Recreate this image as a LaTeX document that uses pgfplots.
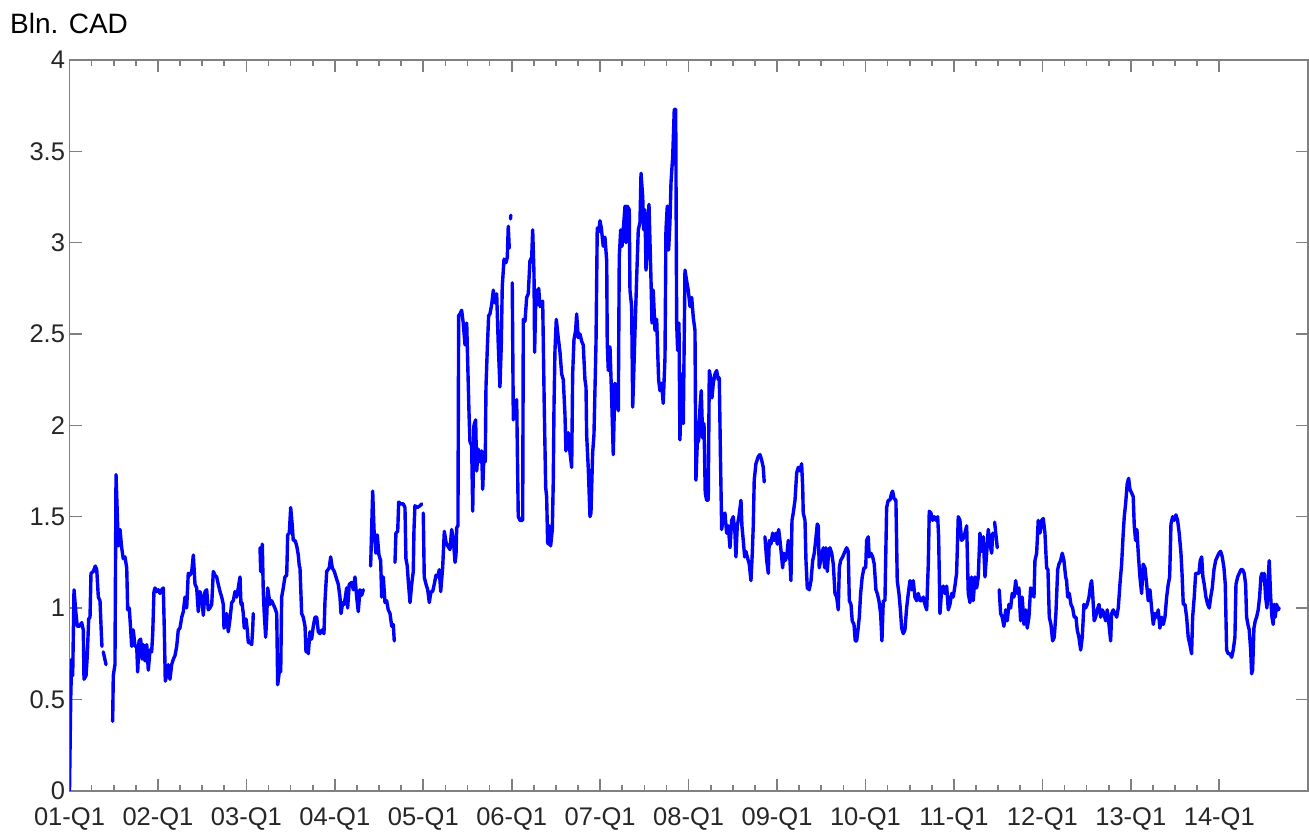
\documentclass[border=0pt]{standalone}
\usepackage{fontspec}
\setmainfont{Liberation Sans}
\usepackage{pgfplots}
\pgfplotsset{compat=1.18}
\usepackage{pgfplotstable}
\definecolor{axisgray}{RGB}{128,128,128}
\definecolor{labgray}{RGB}{38,38,38}
\definecolor{lineblue}{RGB}{0,0,255}

% x = years since 2001-Q1, y = billions of CAD
\pgfplotstableread{
x y
0.000 0.00
0.014 0.51
0.025 0.72
0.036 0.63
0.051 1.10
0.073 0.97
0.088 0.90
0.111 0.90
0.138 0.92
0.156 0.88
0.164 0.61
0.187 0.63
0.201 0.74
0.217 0.94
0.232 0.95
0.243 1.19
0.269 1.20
0.292 1.23
0.308 1.21
0.326 1.06
0.345 1.04
0.360 0.86
0.367 0.79
nan nan
0.382 0.76
0.413 0.69
nan nan
0.488 0.38
0.495 0.63
0.514 0.69
0.526 1.73
0.540 1.52
0.552 1.34
0.571 1.43
0.590 1.33
0.608 1.27
0.627 1.28
0.647 1.22
0.658 0.99
0.676 1.00
0.692 0.88
0.703 0.79
0.721 0.88
0.741 0.79
0.760 0.79
0.771 0.65
0.786 0.82
0.805 0.83
0.820 0.72
0.834 0.80
0.854 0.71
0.873 0.80
0.891 0.66
0.910 0.77
0.929 0.76
0.941 0.86
0.955 1.09
0.967 1.11
0.986 1.09
1.004 1.10
1.023 1.08
1.042 1.10
1.061 1.11
1.072 0.88
1.083 0.60
1.099 0.63
1.117 0.69
1.136 0.61
1.155 0.69
1.174 0.72
1.193 0.74
1.212 0.79
1.230 0.88
1.249 0.89
1.269 0.95
1.287 0.98
1.306 1.06
1.325 1.00
1.343 1.19
1.362 1.18
1.382 1.20
1.400 1.29
1.419 1.13
1.438 1.11
1.456 0.98
1.475 1.09
1.495 1.06
1.513 0.96
1.532 1.09
1.551 1.10
1.569 0.99
1.588 1.00
1.608 1.02
1.626 1.20
1.645 1.18
1.664 1.17
1.682 1.13
1.702 1.09
1.721 1.06
1.739 1.02
1.747 0.89
1.766 0.92
1.777 0.97
1.795 0.87
1.815 0.94
1.834 1.03
1.852 1.04
1.871 1.09
1.890 1.06
1.908 1.11
1.928 1.17
1.939 1.02
1.950 1.03
1.965 0.97
1.976 0.89
1.996 0.94
2.010 0.88
2.022 0.81
2.041 0.81
2.060 0.80
2.071 0.88
2.078 0.97
nan nan
2.154 1.33
2.162 1.20
2.180 1.35
2.191 1.09
2.202 0.97
2.218 0.84
2.230 0.95
2.241 1.11
2.256 1.06
2.267 1.02
2.286 1.04
2.304 1.02
2.323 1.00
2.343 0.97
2.354 0.58
2.372 0.65
2.388 0.65
2.399 1.06
2.417 1.11
2.436 1.17
2.456 1.18
2.467 1.40
2.485 1.41
2.501 1.55
2.519 1.45
2.530 1.37
2.550 1.37
2.569 1.34
2.587 1.29
2.598 1.23
2.606 1.22
2.625 0.97
2.643 0.95
2.663 0.90
2.674 0.76
2.682 0.83
2.700 0.75
2.719 0.87
2.738 0.83
2.756 0.90
2.776 0.95
2.795 0.95
2.813 0.87
2.832 0.86
2.855 0.88
2.877 0.86
2.889 1.04
2.908 1.20
2.937 1.22
2.953 1.28
2.971 1.22
2.994 1.20
3.013 1.17
3.039 1.13
3.058 1.06
3.070 0.97
3.089 1.03
3.107 1.02
3.134 1.11
3.145 1.00
3.163 1.13
3.191 1.14
3.209 1.10
3.228 1.17
3.247 1.06
3.265 0.98
3.284 1.10
3.304 1.07
3.322 1.10
nan nan
3.405 1.23
3.428 1.64
3.443 1.43
3.465 1.30
3.480 1.40
3.499 1.29
3.518 1.26
3.530 1.06
3.548 1.17
3.567 1.03
3.586 1.04
3.604 0.99
3.624 0.97
3.643 0.90
3.661 0.91
3.672 0.82
nan nan
3.680 1.25
3.691 1.41
3.711 1.42
3.722 1.58
3.748 1.57
3.774 1.57
3.793 1.55
3.804 1.27
3.819 1.23
3.830 1.15
3.850 1.03
3.869 1.13
3.887 1.20
3.895 1.43
3.906 1.56
3.932 1.55
3.963 1.56
3.982 1.57
nan nan
4.000 1.52
4.011 1.17
4.031 1.13
4.050 1.10
4.068 1.03
4.087 1.09
4.106 1.09
4.124 1.13
4.144 1.18
4.163 1.17
4.181 1.21
4.197 1.09
4.219 1.22
4.238 1.42
4.257 1.36
4.276 1.34
4.302 1.32
4.321 1.43
4.339 1.38
4.359 1.25
4.370 1.29
4.378 1.44
4.392 1.45
4.400 2.60
4.415 2.61
4.434 2.63
4.452 2.56
4.472 2.44
4.491 2.56
4.502 2.35
4.517 2.07
4.528 1.91
4.547 1.89
4.559 1.53
4.573 2.00
4.592 2.03
4.604 1.75
4.622 1.87
4.641 1.80
4.660 1.86
4.672 1.65
4.686 1.84
4.701 1.80
4.709 2.21
4.724 2.42
4.739 2.60
4.754 2.61
4.773 2.66
4.792 2.74
4.811 2.67
4.830 2.72
4.848 2.44
4.867 2.21
4.882 2.44
4.893 2.76
4.913 2.91
4.935 2.89
4.950 2.92
4.961 3.09
4.972 2.97
nan nan
4.986 3.13
4.990 3.15
nan nan
5.006 2.78
5.018 2.03
5.037 2.12
5.056 2.14
5.074 1.50
5.093 1.48
5.124 1.48
5.131 2.58
5.150 2.57
5.169 2.70
5.187 2.72
5.206 2.90
5.226 2.92
5.237 3.07
5.252 2.83
5.259 2.40
5.274 2.74
5.289 2.66
5.305 2.75
5.320 2.65
5.350 2.68
5.368 2.10
5.384 1.66
5.395 1.61
5.406 1.36
5.413 1.35
5.425 1.45
5.440 1.34
5.459 1.43
5.470 1.70
5.478 2.10
5.489 2.41
5.504 2.58
5.526 2.48
5.546 2.40
5.565 2.28
5.583 2.25
5.602 2.06
5.613 1.86
5.639 1.96
5.659 1.85
5.678 1.77
5.689 2.28
5.704 2.47
5.723 2.52
5.734 2.61
5.752 2.48
5.772 2.50
5.791 2.46
5.809 2.44
5.828 2.25
5.840 2.21
5.847 1.95
5.866 1.76
5.885 1.50
5.896 1.52
5.915 1.85
5.930 1.95
5.941 2.19
5.953 2.45
5.967 3.08
5.983 3.06
5.998 3.12
6.013 3.08
6.035 2.98
6.054 3.03
6.074 2.90
6.080 2.45
6.092 2.30
6.111 2.43
6.130 2.15
6.148 1.84
6.167 2.23
6.187 2.19
6.205 2.08
6.216 2.92
6.232 3.07
6.247 2.98
6.261 3.07
6.281 3.20
6.292 3.00
6.306 3.20
6.329 3.18
6.337 2.74
6.356 2.65
6.368 2.10
6.382 2.32
6.394 2.52
6.413 2.81
6.431 3.07
6.450 3.11
6.462 3.38
6.481 3.25
6.492 3.07
6.507 3.18
6.518 2.85
6.533 2.96
6.552 3.21
6.563 3.01
6.574 2.81
6.586 2.56
6.600 2.74
6.620 2.52
6.639 2.58
6.650 2.41
6.661 2.25
6.676 2.19
6.695 2.23
6.713 2.12
6.733 2.37
6.744 3.07
6.759 3.20
6.774 2.96
6.789 3.11
6.801 3.33
6.820 3.47
6.838 3.73
6.854 3.73
6.865 2.56
6.876 2.41
6.891 2.56
6.902 1.92
6.922 2.28
6.940 2.01
6.959 2.85
6.978 2.79
6.996 2.74
7.016 2.65
7.035 2.70
7.053 2.59
7.072 2.52
7.083 1.70
7.098 1.90
7.114 1.92
7.129 2.10
7.143 2.19
7.159 1.93
7.174 2.01
7.188 1.63
7.204 1.59
7.222 1.59
7.234 2.30
7.249 2.26
7.264 2.15
7.279 2.23
7.298 2.28
7.317 2.30
7.335 2.25
7.347 2.26
7.360 1.83
7.374 1.43
7.392 1.50
7.411 1.52
7.430 1.41
7.448 1.45
7.468 1.33
7.487 1.48
7.505 1.50
7.524 1.41
7.535 1.28
7.550 1.45
7.569 1.50
7.592 1.59
7.603 1.45
7.618 1.37
7.634 1.28
7.648 1.31
7.663 1.28
7.686 1.24
7.705 1.15
7.720 1.30
7.731 1.45
7.742 1.70
7.761 1.79
7.788 1.83
7.807 1.84
7.826 1.81
7.844 1.77
7.855 1.69
nan nan
7.863 1.39
7.883 1.26
7.901 1.19
7.912 1.37
7.931 1.35
7.950 1.41
7.968 1.37
7.988 1.41
8.002 1.35
8.018 1.43
8.033 1.37
8.052 1.28
8.063 1.22
8.078 1.30
8.093 1.26
8.109 1.28
8.127 1.37
8.146 1.26
8.157 1.15
8.169 1.48
8.183 1.52
8.203 1.59
8.222 1.74
8.240 1.77
8.259 1.75
8.278 1.79
8.290 1.66
8.296 1.52
8.316 1.48
8.327 1.26
8.342 1.11
8.364 1.10
8.384 1.15
8.403 1.26
8.421 1.30
8.437 1.37
8.455 1.46
8.466 1.45
8.477 1.22
8.493 1.26
8.511 1.30
8.523 1.33
8.538 1.22
8.553 1.33
8.568 1.20
8.584 1.31
8.598 1.33
8.618 1.30
8.636 1.24
8.655 1.08
8.674 1.06
8.692 0.99
8.704 1.22
8.719 1.26
8.742 1.28
8.768 1.31
8.787 1.33
8.805 1.31
8.817 1.04
8.836 1.02
8.850 0.93
8.870 0.91
8.884 0.82
8.900 0.82
8.915 0.88
8.930 0.95
8.945 1.08
8.963 1.17
8.983 1.22
9.002 1.22
9.013 1.37
9.031 1.39
9.042 1.28
9.062 1.30
9.081 1.28
9.099 1.24
9.118 1.10
9.133 1.08
9.152 1.04
9.171 0.97
9.186 0.82
9.201 1.04
9.220 1.04
9.239 1.55
9.257 1.59
9.276 1.59
9.296 1.63
9.307 1.64
9.322 1.60
9.344 1.59
9.359 1.15
9.378 1.08
9.393 1.00
9.409 0.89
9.427 0.86
9.446 0.88
9.465 1.00
9.484 1.08
9.503 1.15
9.522 1.10
9.540 1.15
9.559 1.06
9.578 1.04
9.597 1.08
9.616 1.04
9.635 1.04
9.653 1.06
9.672 1.02
9.692 0.99
9.710 1.24
9.721 1.53
9.740 1.52
9.760 1.48
9.778 1.50
9.797 1.48
9.816 1.50
9.827 1.39
9.842 0.97
9.861 1.10
9.879 1.12
9.898 1.08
9.918 1.12
9.936 0.99
9.955 1.02
9.974 1.08
9.992 1.06
10.011 1.12
10.030 1.19
10.049 1.50
10.068 1.48
10.087 1.37
10.105 1.38
10.124 1.41
10.144 1.45
10.162 1.08
10.181 1.03
10.200 1.17
10.218 1.04
10.238 1.17
10.257 1.11
10.275 1.17
10.294 1.41
10.314 1.31
10.332 1.39
10.351 1.17
10.370 1.30
10.388 1.43
10.407 1.35
10.427 1.30
10.438 1.41
nan nan
10.460 1.47
10.475 1.40
10.490 1.33
nan nan
10.512 1.10
10.528 0.97
10.546 0.95
10.565 0.90
10.585 0.99
10.603 0.93
10.622 1.02
10.641 1.00
10.659 1.08
10.679 1.06
10.698 1.15
10.716 1.08
10.735 1.11
10.754 0.93
10.772 1.06
10.792 0.91
10.811 0.99
10.829 0.89
10.848 0.95
10.867 1.11
10.886 1.10
10.905 1.06
10.916 1.26
10.935 1.30
10.953 1.48
10.973 1.41
10.992 1.48
11.010 1.49
11.029 1.41
11.048 1.22
11.063 1.21
11.078 0.95
11.097 0.91
11.116 0.82
11.134 0.84
11.153 0.97
11.173 1.21
11.187 1.24
11.206 1.26
11.225 1.30
11.244 1.26
11.263 1.17
11.274 1.15
11.286 1.06
11.304 1.08
11.323 1.02
11.342 1.00
11.360 0.95
11.380 0.95
11.394 0.88
11.413 0.84
11.433 0.77
11.451 0.84
11.470 1.02
11.489 1.00
11.507 1.02
11.527 1.06
11.546 1.13
11.557 1.15
11.568 1.08
11.586 0.93
11.602 0.95
11.620 0.99
11.640 1.02
11.659 0.95
11.677 0.99
11.696 0.97
11.715 0.93
11.733 0.99
11.753 0.91
11.772 0.82
11.783 0.97
11.801 0.99
11.821 0.97
11.840 0.95
11.858 1.00
11.877 1.13
11.896 1.24
11.914 1.41
11.926 1.50
11.941 1.57
11.959 1.68
11.975 1.71
11.990 1.65
12.009 1.63
12.027 1.61
12.039 1.45
12.054 1.37
12.069 1.43
12.084 1.30
12.103 1.17
12.122 1.08
12.140 1.24
12.160 1.22
12.179 1.13
12.197 1.04
12.216 1.10
12.235 1.00
12.254 0.91
12.273 0.97
12.292 0.95
12.310 0.99
12.329 0.89
12.349 0.95
12.367 0.91
12.386 0.95
12.405 1.06
12.423 1.13
12.439 1.17
12.454 1.46
12.473 1.50
12.491 1.48
12.510 1.51
12.529 1.48
12.547 1.41
12.567 1.30
12.581 1.17
12.593 1.02
12.612 1.02
12.631 0.95
12.649 0.84
12.668 0.80
12.687 0.75
12.699 0.95
12.717 1.06
12.733 1.19
12.751 1.19
12.770 1.19
12.785 1.26
12.801 1.28
12.815 1.17
12.830 1.13
12.849 1.06
12.869 1.02
12.887 1.00
12.903 1.06
12.921 1.11
12.940 1.21
12.959 1.26
12.977 1.28
12.996 1.30
13.016 1.31
13.034 1.28
13.053 1.22
13.068 1.13
13.083 0.77
13.101 0.75
13.121 0.75
13.140 0.73
13.158 0.77
13.177 0.84
13.189 1.13
13.208 1.17
13.226 1.19
13.245 1.21
13.264 1.21
13.282 1.19
13.298 1.13
13.309 0.95
13.324 0.91
13.339 0.88
13.355 0.77
13.366 0.64
13.377 0.66
13.392 0.89
13.407 0.93
13.422 0.95
13.440 0.99
13.456 1.06
13.471 1.17
13.482 1.19
13.497 1.15
13.508 1.19
13.524 1.06
13.539 1.00
13.554 1.17
13.565 1.26
13.581 1.06
13.596 0.95
13.610 0.91
13.622 1.02
13.633 0.95
13.648 1.02
13.667 0.99
13.678 1.00
}\liquidity

\begin{document}
\begin{tikzpicture}
\begin{axis}[
  scale only axis,
  width=1238.2pt, height=730.7pt,
  xmin=0, xmax=14, ymin=0, ymax=4,
  xtick={0,1,2,3,4,5,6,7,8,9,10,11,12,13},
  xticklabels={01-Q1,02-Q1,03-Q1,04-Q1,05-Q1,06-Q1,07-Q1,08-Q1,09-Q1,10-Q1,11-Q1,12-Q1,13-Q1,14-Q1},
  minor x tick num=3,
  ytick={0,0.5,1,1.5,2,2.5,3,3.5,4},
  yticklabels={0,0.5,1,1.5,2,2.5,3,3.5,4},
  tick align=inside,
  tick pos=both,
  major tick length=12pt,
  minor tick length=6pt,
  axis line style={draw=axisgray, line width=1.6pt},
  every tick/.style={draw=axisgray, line width=1.6pt},
  every minor tick/.style={draw=axisgray, line width=1.6pt},
  tick label style={font=\fontsize{25.5}{30}\selectfont, text=labgray},
  xticklabel style={yshift=-13pt},
  yticklabel style={xshift=-1pt},
  /pgf/number format/assume math mode=true,
  unbounded coords=jump,
  clip=true,
]
\addplot[color=lineblue, line width=3.4pt, line join=round, line cap=round, mark=none] table[x=x, y=y] {\liquidity};
\end{axis}
\node[anchor=base west, inner sep=0pt, font=\fontsize{28}{33}\selectfont]
  at ([xshift=-59.5pt, yshift=26.7pt]current axis.north west) {Bln. CAD};
\path ([xshift=-69.5pt, yshift=-41.3pt]current axis.south west) rectangle ([xshift=1.3pt, yshift=60pt]current axis.north east);
\end{tikzpicture}
\end{document}
